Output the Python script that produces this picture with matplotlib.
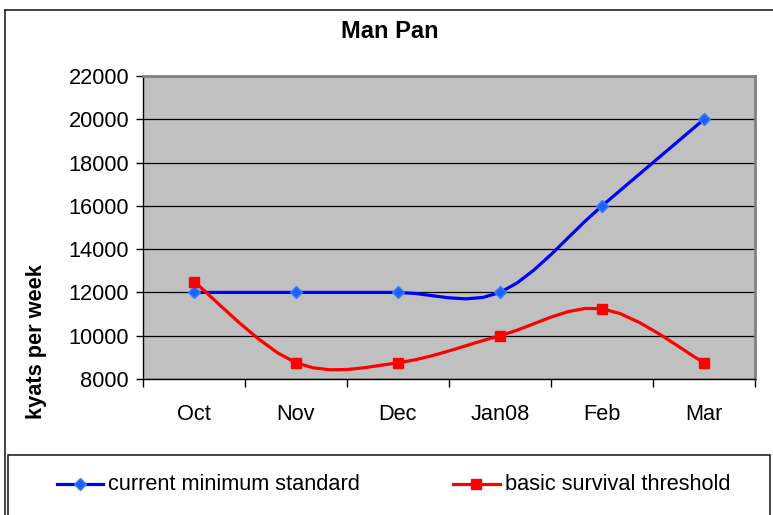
import numpy as np
import matplotlib
matplotlib.use("Agg")
import matplotlib.pyplot as plt
from matplotlib.lines import Line2D
from matplotlib.patches import Rectangle

# ---- data ----
categories = ["Oct", "Nov", "Dec", "Jan08", "Feb", "Mar"]
current_min = [12000, 12000, 12000, 12000, 16000, 20000]
survival = [12500, 8750, 8750, 10000, 11250, 8750]
series_names = ["current minimum standard", "basic survival threshold"]
yticks = [8000, 10000, 12000, 14000, 16000, 18000, 20000, 22000]

plt.rcParams['font.family'] = ['Liberation Sans', 'DejaVu Sans']


def excel_smooth(x, y, n=12):
    """Excel-style smoothed line (Bezier with control points at 1/6 of neighbour span)."""
    x = np.asarray(x, float)
    y = np.asarray(y, float)
    px = np.concatenate([[x[0]], x, [x[-1]]])
    py = np.concatenate([[y[0]], y, [y[-1]]])
    xs, ys = [x[0]], [y[0]]
    for i in range(1, len(px) - 2):
        p0 = np.array([px[i - 1], py[i - 1]])
        p1 = np.array([px[i], py[i]])
        p2 = np.array([px[i + 1], py[i + 1]])
        p3 = np.array([px[i + 2], py[i + 2]])
        c1 = p1 + (p2 - p0) / 6.0
        c2 = p2 - (p3 - p1) / 6.0
        t = np.linspace(0, 1, n + 1)[1:][:, None]
        b = ((1 - t) ** 3) * p1 + 3 * ((1 - t) ** 2) * t * c1 + 3 * (1 - t) * t ** 2 * c2 + t ** 3 * p2
        xs.extend(b[:, 0])
        ys.extend(b[:, 1])
    return np.array(xs), np.array(ys)


W, H = 773, 515
fig = plt.figure(figsize=(W / 100, H / 100), dpi=100)
fig.patch.set_facecolor("white")

L, R, T, B = 143, 755, 76, 379
ax = fig.add_axes([L / W, 1 - B / H, (R - L) / W, (B - T) / H])
ax.set_facecolor("#c0c0c0")

x = np.arange(len(categories))
blue = "#0000ff"
red = "#ff0000"
FS = 15.7

sx, sy = excel_smooth(x, current_min, n=6)
ax.plot(sx, sy, color=blue, lw=2.3, solid_joinstyle="round", zorder=3)
ax.plot(x, current_min, linestyle="none", marker="D", ms=6.5, mfc="#2060ff", mec="#3080ff", mew=1.0, zorder=4)

sx, sy = excel_smooth(x, survival, n=6)
ax.plot(sx, sy, color=red, lw=2.3, solid_joinstyle="round", zorder=3)
ax.plot(x, survival, linestyle="none", marker="s", ms=7.2, mfc=red, mec=red, zorder=4)

ax.set_xlim(-0.5, len(categories) - 0.5)
ax.set_ylim(8000, 22000)
ax.set_yticks(yticks)
ax.set_yticklabels([str(v) for v in yticks], fontsize=FS)
ax.yaxis.grid(True, color="#000000", lw=0.9)
ax.set_axisbelow(True)

ax.set_xticks(x)
ax.set_xticklabels(categories, fontsize=FS)
ax.set_xticks(np.arange(-0.5, len(categories)), minor=True)
ax.tick_params(axis="x", which="major", length=0, pad=18)
ax.tick_params(axis="x", which="minor", length=6, width=1, color="black", direction="out")
ax.tick_params(axis="y", length=5, width=1, direction="out", pad=5)

for s in ["left", "bottom"]:
    ax.spines[s].set_color("black")
    ax.spines[s].set_linewidth(1)
for s in ["top", "right"]:
    ax.spines[s].set_color("#808080")
    ax.spines[s].set_linewidth(2)

# title and axis label
fig.text(390 / W, 1 - 31 / H, "Man Pan", ha="center", va="center", fontsize=17, fontweight="bold")
fig.text(37 / W, 1 - 342 / H, "kyats per week", ha="center", va="center", rotation=90,
         fontsize=FS, fontweight="bold")

# outer chart frame
fig.add_artist(Line2D([5 / W, 1.0], [1 - 10 / H, 1 - 10 / H], transform=fig.transFigure, color="#222222", lw=1.2))
fig.add_artist(Line2D([5 / W, 5 / W], [0, 1 - 10 / H], transform=fig.transFigure, color="#222222", lw=1.2))

# legend box
fig.add_artist(Rectangle((8 / W, -0.01), (770 - 8) / W, (1 - 455 / H) + 0.01, transform=fig.transFigure,
                         facecolor="white", edgecolor="#222222", lw=1.2))
ly = 1 - 484 / H
fig.add_artist(Line2D([57 / W, 103 / W], [ly, ly], transform=fig.transFigure, color=blue, lw=2.3))
fig.add_artist(Line2D([80 / W], [ly], transform=fig.transFigure, linestyle="none", marker="D", ms=6.5,
                      mfc="#2060ff", mec="#3080ff"))
fig.text(108 / W, ly, series_names[0], ha="left", va="center", fontsize=FS)
fig.add_artist(Line2D([453 / W, 500 / W], [ly, ly], transform=fig.transFigure, color=red, lw=2.3))
fig.add_artist(Line2D([476 / W], [ly], transform=fig.transFigure, linestyle="none", marker="s", ms=7.2,
                      mfc=red, mec=red))
fig.text(505 / W, ly, series_names[1], ha="left", va="center", fontsize=FS)

fig.savefig("out.png", dpi=100)
